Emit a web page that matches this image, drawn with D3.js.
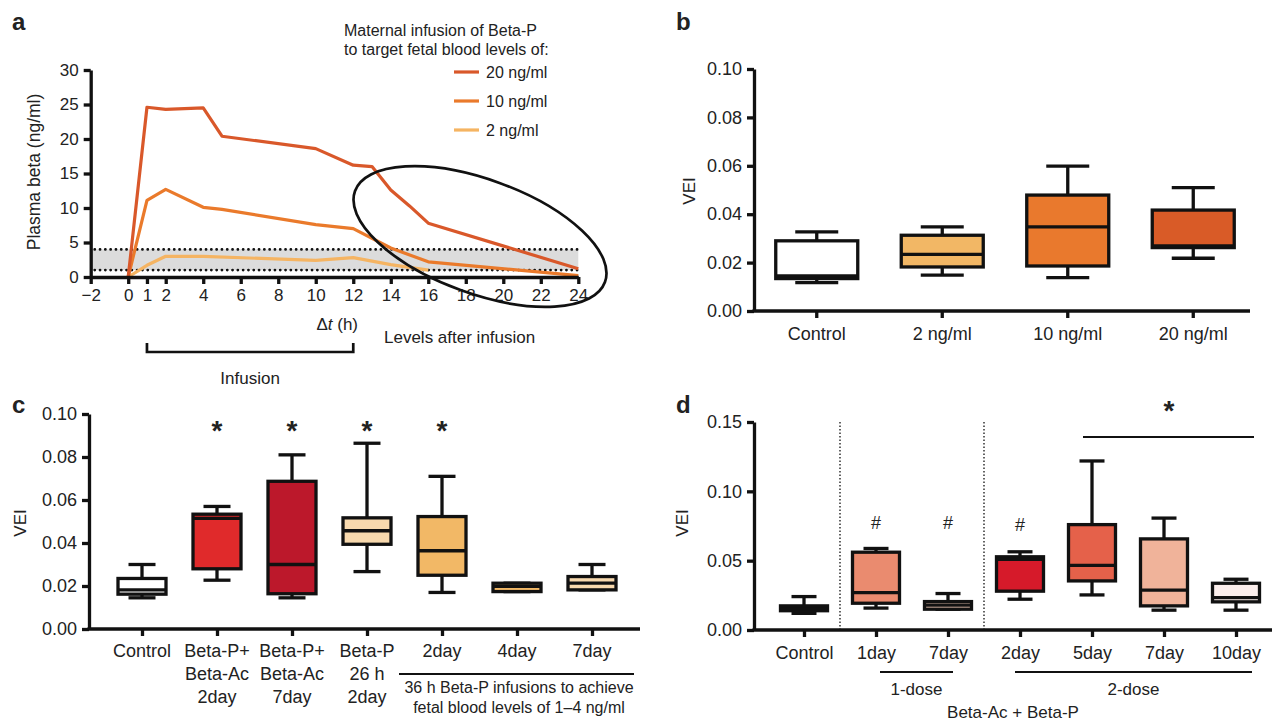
<!DOCTYPE html>
<html>
<head>
<meta charset="utf-8">
<script src="https://cdn.jsdelivr.net/npm/d3@7"></script>
<style>
  body { margin: 0; background: #fff; }
  svg text { font-family: 'Liberation Sans', Arial, Helvetica, sans-serif; fill: #222; }
</style>
</head>
<body>
<div id="chart"></div>
<script>
// ---- panel a: plasma beta over time ----
const aHours20 = [0, 1, 2, 4, 5, 10, 12, 13, 14, 15, 16, 24];
const aBeta20  = [0, 24.6, 24.3, 24.5, 20.4, 18.6, 16.2, 16.0, 12.6, 10.3, 7.8, 1.2];
const aHours10 = [0, 1, 2, 4, 5, 10, 12, 14, 16, 24];
const aBeta10  = [0, 11.1, 12.7, 10.1, 9.8, 7.6, 7.0, 4.2, 2.2, 0.2];
const aHours2  = [0, 1, 2, 4, 10, 12, 14, 16];
const aBeta2   = [0, 1.7, 3.0, 3.0, 2.4, 2.8, 1.8, 1.0];
const aTicksX  = [-2, 0, 1, 2, 4, 6, 8, 10, 12, 14, 16, 18, 20, 22, 24];
const aLegend  = ["20 ng/ml", "10 ng/ml", "2 ng/ml"];
const aTarget  = [1, 4];

// ---- panel b ----
const bCats = ["Control", "2 ng/ml", "10 ng/ml", "20 ng/ml"];
const bMin  = [0.0117, 0.0148, 0.0138, 0.0218];
const bQ1   = [0.0134, 0.0182, 0.0186, 0.0262];
const bMed  = [0.0145, 0.0234, 0.0348, 0.0269];
const bQ3   = [0.0290, 0.0313, 0.0479, 0.0417];
const bMax  = [0.0327, 0.0348, 0.0599, 0.0510];

// ---- panel c ----
const cCats = ["Control", "BPBA2", "BPBA7", "BP26", "2day", "4day", "7day"];
const cLabels = [["Control"], ["Beta-P+", "Beta-Ac", "2day"], ["Beta-P+", "Beta-Ac", "7day"],
                 ["Beta-P", "26 h", "2day"], ["2day"], ["4day"], ["7day"]];
const cMin  = [0.0145, 0.0227, 0.0145, 0.0267, 0.0170, 0.0174, 0.0182];
const cQ1   = [0.0162, 0.0280, 0.0164, 0.0394, 0.0250, 0.0174, 0.0182];
const cMed  = [0.0182, 0.0515, 0.0300, 0.0457, 0.0364, 0.0198, 0.0213];
const cQ3   = [0.0235, 0.0534, 0.0687, 0.0517, 0.0523, 0.0213, 0.0244];
const cMax  = [0.0300, 0.0570, 0.0810, 0.0864, 0.0710, 0.0213, 0.0300];
const cStars = ["BPBA2", "BPBA7", "BP26", "2day"];

// ---- panel d ----
const dCats = ["Control", "1d1", "7d1", "2d2", "5d2", "7d2", "10d2"];
const dLabels = ["Control", "1day", "7day", "2day", "5day", "7day", "10day"];
const dMin  = [0.0120, 0.0158, 0.0150, 0.0222, 0.0253, 0.0143, 0.0143];
const dQ1   = [0.0139, 0.0193, 0.0150, 0.0280, 0.0354, 0.0174, 0.0203];
const dMed  = [0.0150, 0.0270, 0.0179, 0.0509, 0.0466, 0.0287, 0.0234];
const dQ3   = [0.0174, 0.0561, 0.0205, 0.0528, 0.0760, 0.0657, 0.0337];
const dMax  = [0.0241, 0.0588, 0.0263, 0.0564, 0.1219, 0.0807, 0.0366];
const dHash = ["1d1", "7d1", "2d2"];

// colours
const aColors = ["#D9582A", "#EA7A2B", "#F5B462"];
const bFills = ["#ffffff", "#F2B765", "#E9792D", "#D95B27"];
const cFills = ["#ffffff", "#E02A2B", "#BC182B", "#F8D9AE", "#F2B866", "#F2B866", "#F8D9AE"];
const dFills = ["#111111", "#EA8B6F", "#F8D0BC", "#D61A2A", "#E5614A", "#F0B39A", "#FBEEEC"];

const W = 1274, H = 722;
const svg = d3.select("#chart").append("svg").attr("width", W).attr("height", H);

function styleAxis(g, fs) {
  g.selectAll(".domain").attr("stroke", "#111").attr("stroke-width", 3.3);
  g.selectAll(".tick line").attr("stroke", "#111").attr("stroke-width", 3.3);
  g.selectAll(".tick text").attr("font-size", fs).attr("fill", "#222")
    .style("font-family", "'Liberation Sans', Arial, sans-serif");
}

function panelLabel(t, x, y) {
  svg.append("text").attr("x", x).attr("y", y).attr("font-size", 24)
    .attr("font-weight", "bold").text(t);
}

function vLabel(t, x, y, fs) {
  svg.append("text").attr("transform", `translate(${x},${y}) rotate(-90)`)
    .attr("text-anchor", "middle").attr("dominant-baseline", "central")
    .attr("font-size", fs).text(t);
}

function drawBoxes(g, x, y, cats, mins, q1s, meds, q3s, maxs, fills, boxW, capW) {
  const items = cats.map((c, i) => ({c, min: mins[i], q1: q1s[i], med: meds[i], q3: q3s[i], max: maxs[i], fill: fills[i]}));
  const b = g.selectAll("g.box").data(items).join("g").attr("class", "box")
    .attr("transform", d => `translate(${x(d.c)},0)`);
  const sw = 3.3;
  b.append("line").attr("x1", 0).attr("x2", 0).attr("y1", d => y(d.max)).attr("y2", d => y(d.q3))
    .attr("stroke", "#111").attr("stroke-width", sw);
  b.append("line").attr("x1", 0).attr("x2", 0).attr("y1", d => y(d.q1)).attr("y2", d => y(d.min))
    .attr("stroke", "#111").attr("stroke-width", sw);
  b.append("line").attr("x1", -capW / 2).attr("x2", capW / 2).attr("y1", d => y(d.max)).attr("y2", d => y(d.max))
    .attr("stroke", "#111").attr("stroke-width", sw);
  b.append("line").attr("x1", -capW / 2).attr("x2", capW / 2).attr("y1", d => y(d.min)).attr("y2", d => y(d.min))
    .attr("stroke", "#111").attr("stroke-width", sw);
  b.append("rect").attr("x", -boxW / 2).attr("width", boxW)
    .attr("y", d => y(d.q3)).attr("height", d => Math.max(0.5, y(d.q1) - y(d.q3)))
    .attr("fill", d => d.fill).attr("stroke", "#111").attr("stroke-width", sw);
  b.append("line").attr("x1", -boxW / 2).attr("x2", boxW / 2).attr("y1", d => y(d.med)).attr("y2", d => y(d.med))
    .attr("stroke", "#111").attr("stroke-width", sw);
}

// ================= panel a =================
{
  const x = d3.scaleLinear().domain([-2, 24]).range([90.7, 578.3]);
  const y = d3.scaleLinear().domain([0, 30]).range([277, 70]);
  const g = svg.append("g");

  // target band
  g.append("rect").attr("x", x(-2)).attr("width", x(24) - x(-2))
    .attr("y", y(aTarget[1])).attr("height", y(aTarget[0]) - y(aTarget[1]))
    .attr("fill", "#dcdcdc");
  aTarget.forEach(v => {
    g.append("line").attr("x1", x(-2) + 4).attr("x2", x(24)).attr("y1", y(v)).attr("y2", y(v))
      .attr("stroke", "#111").attr("stroke-width", 2.7)
      .attr("stroke-dasharray", "0.1 5.2").attr("stroke-linecap", "round");
  });

  const line = d3.line().x(d => x(d[0])).y(d => y(d[1]));
  const series = [d3.zip(aHours2, aBeta2), d3.zip(aHours10, aBeta10), d3.zip(aHours20, aBeta20)];
  const scol = [aColors[2], aColors[1], aColors[0]];
  series.forEach((s, i) => {
    g.append("path").datum(s).attr("d", line).attr("fill", "none")
      .attr("stroke", scol[i]).attr("stroke-width", 3.2).attr("stroke-linejoin", "round");
  });

  const xa = g.append("g").attr("transform", `translate(0,${y(0)})`)
    .call(d3.axisBottom(x).tickValues(aTicksX).tickSize(7).tickSizeOuter(0).tickPadding(5));
  styleAxis(xa, 17);
  const ya = g.append("g").attr("transform", `translate(${x(-2)},0)`)
    .call(d3.axisLeft(y).ticks(6).tickSize(7).tickSizeOuter(0).tickPadding(5));
  styleAxis(ya, 17);

  // ellipse around post-infusion levels
  g.append("ellipse").attr("cx", 480).attr("cy", 236.5).attr("rx", 133).attr("ry", 57)
    .attr("transform", "rotate(20,480,236.5)")
    .attr("fill", "none").attr("stroke", "#111").attr("stroke-width", 2.7);

  vLabel("Plasma beta (ng/ml)", 34, 172, 17.5);

  const dt = g.append("text").attr("x", 358).attr("y", 330).attr("text-anchor", "end").attr("font-size", 17);
  dt.append("tspan").text("\u0394");
  dt.append("tspan").attr("font-style", "italic").text("t");
  dt.append("tspan").text(" (h)");

  g.append("text").attr("x", 384).attr("y", 343).attr("font-size", 17).text("Levels after infusion");

  // infusion bracket
  g.append("path").attr("d", `M${x(1)},343 V352 H${x(12)} V343`)
    .attr("fill", "none").attr("stroke", "#111").attr("stroke-width", 2.7);
  g.append("text").attr("x", (x(1) + x(12)) / 2).attr("y", 384).attr("text-anchor", "middle")
    .attr("font-size", 17).text("Infusion");

  // legend
  g.append("text").attr("x", 344).attr("y", 36).attr("font-size", 16).text("Maternal infusion of Beta-P");
  g.append("text").attr("x", 344).attr("y", 55).attr("font-size", 16).text("to target fetal blood levels of:");
  aLegend.forEach((t, i) => {
    const ly = 72 + i * 29;
    g.append("line").attr("x1", 454).attr("x2", 479).attr("y1", ly).attr("y2", ly)
      .attr("stroke", aColors[i]).attr("stroke-width", 3.2);
    g.append("text").attr("x", 486).attr("y", ly).attr("dominant-baseline", "central")
      .attr("font-size", 16).text(t);
  });
  panelLabel("a", 12, 30);
}

// ================= panel b =================
{
  const x = d3.scaleBand().domain(bCats).range([754, 1256]).padding(0);
  const xc = c => x(c) + x.bandwidth() / 2;
  const y = d3.scaleLinear().domain([0, 0.10]).range([311, 69]);
  const g = svg.append("g");
  drawBoxes(g, xc, y, bCats, bMin, bQ1, bMed, bQ3, bMax, bFills, 82, 43);
  const ya = g.append("g").attr("transform", "translate(754,0)")
    .call(d3.axisLeft(y).tickValues([0, 0.02, 0.04, 0.06, 0.08, 0.10]).tickFormat(d3.format(".2f"))
      .tickSize(7).tickSizeOuter(0).tickPadding(5));
  styleAxis(ya, 18);
  const xa = g.append("g").attr("transform", "translate(0,311)")
    .call(d3.axisBottom(x).tickSize(7).tickSizeOuter(0).tickPadding(9));
  styleAxis(xa, 18);
  xa.select(".domain").attr("d", "M752.5,0H1250");
  vLabel("VEI", 689, 191, 17);
  panelLabel("b", 676, 30);
}

// ================= panel c =================
{
  const x = d3.scalePoint().domain(cCats).range([142, 592]);
  const y = d3.scaleLinear().domain([0, 0.10]).range([629, 414]);
  const g = svg.append("g");
  drawBoxes(g, x, y, cCats, cMin, cQ1, cMed, cQ3, cMax, cFills, 48, 27);
  const ya = g.append("g").attr("transform", "translate(89,0)")
    .call(d3.axisLeft(y).tickValues([0, 0.02, 0.04, 0.06, 0.08, 0.10]).tickFormat(d3.format(".2f"))
      .tickSize(7).tickSizeOuter(0).tickPadding(5));
  styleAxis(ya, 18);
  const xa = g.append("g").attr("transform", "translate(0,629)")
    .call(d3.axisBottom(x).tickSize(7).tickSizeOuter(0).tickFormat(""));
  styleAxis(xa, 18);
  xa.select(".domain").attr("d", "M87.5,0H640");
  cCats.forEach((c, i) => {
    cLabels[i].forEach((t, j) => {
      g.append("text").attr("x", x(c)).attr("y", 657 + j * 23).attr("text-anchor", "middle")
        .attr("font-size", 18).text(t);
    });
  });
  cStars.forEach(c => {
    g.append("text").attr("x", x(c)).attr("y", 440).attr("text-anchor", "middle")
      .attr("font-size", 28).attr("font-weight", "bold").text("*");
  });
  g.append("line").attr("x1", 399).attr("x2", 634).attr("y1", 674).attr("y2", 674)
    .attr("stroke", "#111").attr("stroke-width", 2);
  g.append("text").attr("x", 519).attr("y", 693).attr("text-anchor", "middle").attr("font-size", 16)
    .text("36 h Beta-P infusions to achieve");
  g.append("text").attr("x", 519).attr("y", 713).attr("text-anchor", "middle").attr("font-size", 16)
    .text("fetal blood levels of 1\u20134 ng/ml");
  vLabel("VEI", 20, 523, 17);
  panelLabel("c", 12, 413);
}

// ================= panel d =================
{
  const x = d3.scalePoint().domain(dCats).range([804, 1236]);
  const y = d3.scaleLinear().domain([0, 0.15]).range([630, 422]);
  const g = svg.append("g");
  // group separators
  [["Control", "1d1"], ["7d1", "2d2"]].forEach(p => {
    const sx = (x(p[0]) + x(p[1])) / 2;
    g.append("line").attr("x1", sx).attr("x2", sx).attr("y1", y(0.15)).attr("y2", y(0))
      .attr("stroke", "#111").attr("stroke-width", 1.3).attr("stroke-dasharray", "1.5 2");
  });
  drawBoxes(g, x, y, dCats, dMin, dQ1, dMed, dQ3, dMax, dFills, 47, 25);
  const ya = g.append("g").attr("transform", "translate(754,0)")
    .call(d3.axisLeft(y).tickValues([0, 0.05, 0.10, 0.15]).tickFormat(d3.format(".2f"))
      .tickSize(7).tickSizeOuter(0).tickPadding(5));
  styleAxis(ya, 18);
  const xa = g.append("g").attr("transform", "translate(0,630)")
    .call(d3.axisBottom(x).tickSize(7).tickSizeOuter(0).tickFormat((d, i) => dLabels[i]).tickPadding(9));
  styleAxis(xa, 18);
  xa.select(".domain").attr("d", "M752.5,0H1272");
  dHash.forEach((c, i) => {
    g.append("text").attr("x", x(c)).attr("y", i === 2 ? 531 : 529).attr("text-anchor", "middle")
      .attr("font-size", 18).text("#");
  });
  // significance bar
  g.append("line").attr("x1", x("5d2") - 9).attr("x2", x("10d2") + 18).attr("y1", 437).attr("y2", 437)
    .attr("stroke", "#111").attr("stroke-width", 2);
  g.append("text").attr("x", 1169).attr("y", 420).attr("text-anchor", "middle")
    .attr("font-size", 28).attr("font-weight", "bold").text("*");
  // dose groups
  const groups = [["1-dose", x("1d1") + 4, x("7d1") + 5], ["2-dose", x("2d2") - 5, x("10d2") + 16]];
  groups.forEach(gr => {
    g.append("line").attr("x1", gr[1]).attr("x2", gr[2]).attr("y1", 672).attr("y2", 672)
      .attr("stroke", "#111").attr("stroke-width", 2);
    g.append("text").attr("x", (gr[1] + gr[2]) / 2).attr("y", 695).attr("text-anchor", "middle")
      .attr("font-size", 17).text(gr[0]);
  });
  g.append("text").attr("x", 1013).attr("y", 718).attr("text-anchor", "middle")
    .attr("font-size", 17).text("Beta-Ac + Beta-P");
  vLabel("VEI", 682, 523, 17);
  panelLabel("d", 676, 413);
}
</script>
</body>
</html>
